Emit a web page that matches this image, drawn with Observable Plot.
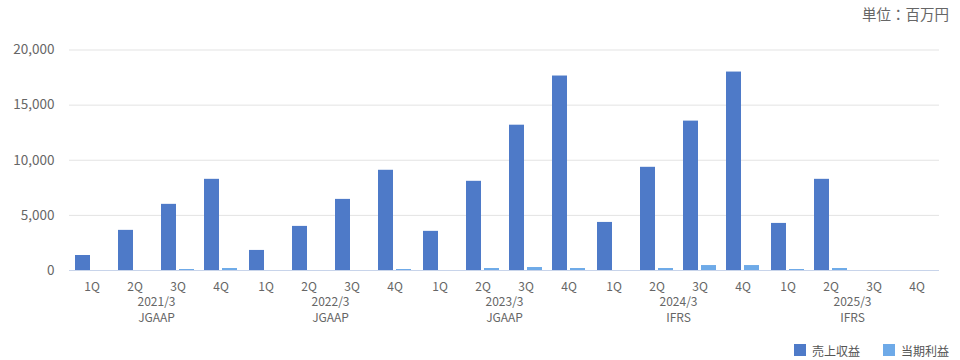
<!DOCTYPE html>
<html><head><meta charset="utf-8">
<script src="https://cdn.jsdelivr.net/npm/d3@7"></script>
<script src="https://cdn.jsdelivr.net/npm/@observablehq/plot@0.6"></script>
<style>
body{margin:0;background:#fff;font-family:"Noto Sans CJK JP","Noto Sans",sans-serif;}
#wrap{width:960px;height:360px;position:relative;overflow:hidden;background:#fff}
#unit{height:28px;line-height:28px;text-align:right;padding-right:11px;font-size:14.5px;color:#666}
#legend{position:absolute;top:342px;right:11px;display:flex;align-items:center;font-size:12px;color:#555;height:16px}
.sw{width:12px;height:12px;display:inline-block;margin-right:6px}
.item{display:flex;align-items:center;margin-left:23px}
</style></head>
<body>
<div id="wrap">
  <div id="unit">単位：百万円</div>
  <div id="chart"></div>
  <div id="legend"></div>
</div>
<script>
const years = ["2021/3", "2022/3", "2023/3", "2024/3", "2025/3"];
const standards = ["JGAAP", "JGAAP", "JGAAP", "IFRS", "IFRS"];
const quarters = ["1Q", "2Q", "3Q", "4Q"];
const seriesNames = ["売上収益", "当期利益"];
const seriesColors = ["#4e7ac8", "#6eaae8"];
const sales = [1360, 3640, 6000, 8270, 1820, 4000, 6450, 9090, 3550, 8090, 13180, 17640, 4360, 9360, 13550, 18000, 4270, 8270, null, null];
const profit = [0, 0, 90, 180, 0, 0, 0, 90, 0, 180, 270, 180, 0, 180, 450, 450, 90, 180, null, null];
const yTicks = [0, 5000, 10000, 15000, 20000];

const rows = sales.map((s, i) => ({
  year: years[Math.floor(i / 4)],
  q: quarters[i % 4],
  sales: s,
  profit: profit[i]
}));
const yearRows = years.map((y, i) => ({year: y, std: standards[i]}));

const chart = Plot.plot({
  width: 960,
  height: 310,
  marginLeft: 67,
  marginRight: 20,
  marginTop: 21.5,
  marginBottom: 68,
  style: {fontFamily: '"Noto Sans CJK JP","Noto Sans",sans-serif', fontSize: "12px", color: "#666", background: "#fff"},
  fx: {domain: years, padding: 0, axis: null, label: null},
  x: {domain: quarters, paddingInner: 0.244, paddingOuter: 0.122, axis: null, label: null},
  y: {domain: [0, 20000], axis: null, label: null},
  marks: [
    Plot.gridY(yTicks, {stroke: "#e3e3e3", strokeOpacity: 1}),
    Plot.axisY(yTicks, {tickSize: 0, tickPadding: 15, tickFormat: d3.format(","), fontSize: 13.5, fill: "#666", label: null}),
    Plot.barY(rows, {fx: "year", x: "q", y: "sales", fill: seriesColors[0], insetRight: 18}),
    Plot.barY(rows, {fx: "year", x: "q", y: "profit", fill: seriesColors[1], insetLeft: 18}),
    Plot.ruleY([0], {stroke: "#c8d4ea"}),
    Plot.axisX({tickSize: 0, tickPadding: 12, fill: "#666", label: null}),
    Plot.text(yearRows, {fx: "year", text: "year", frameAnchor: "bottom", dy: 35, fill: "#666"}),
    Plot.text(yearRows, {fx: "year", text: "std", frameAnchor: "bottom", dy: 51, fill: "#666"})
  ]
});
document.getElementById("chart").appendChild(chart);

const legend = document.getElementById("legend");
seriesNames.forEach((n, i) => {
  const item = document.createElement("div");
  item.className = "item";
  const sw = document.createElement("span");
  sw.className = "sw";
  sw.style.background = seriesColors[i];
  const lab = document.createElement("span");
  lab.textContent = n;
  item.appendChild(sw);
  item.appendChild(lab);
  legend.appendChild(item);
});
</script>
</body></html>
